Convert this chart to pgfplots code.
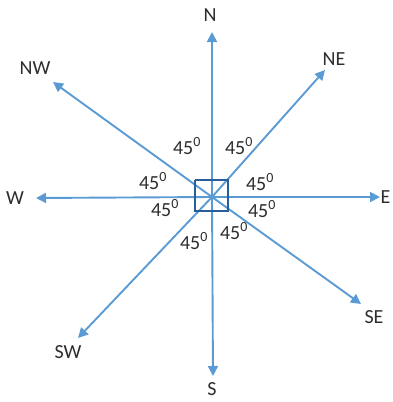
\documentclass[border=0pt]{standalone}
\usepackage{pgfplots}
\pgfplotsset{compat=1.18}
\usepackage{fontspec}
\setmainfont{Carlito}
\usetikzlibrary{arrows.meta}
\definecolor{arrowblue}{RGB}{91,155,213}
\definecolor{boxblue}{RGB}{40,95,155}
\definecolor{txt}{RGB}{45,45,45}

\begin{document}
\begin{tikzpicture}
\begin{axis}[
    width=392pt, height=402pt, scale only axis,
    xmin=0, xmax=392, ymin=0, ymax=402,
    y dir=reverse,
    hide axis, clip=false,
    arr/.style={arrowblue, line width=1.9pt, mark=none, solid,
        -{Triangle[length=10pt,width=10pt]}},
    nodes={font=\fontsize{20}{22}\selectfont, text=txt},
]
% arrows from the centre (pixel coordinates, y downwards)
\addplot[arr] coordinates {(212,197) (212,32)};   % N
\addplot[arr] coordinates {(212,197) (325,70)};   % NE
\addplot[arr] coordinates {(212,197) (53,82)};    % NW
\addplot[arr] coordinates {(212,197) (36,198)};   % W
\addplot[arr] coordinates {(212,197) (380,197)};  % E
\addplot[arr] coordinates {(212,197) (78,338)};   % SW
\addplot[arr] coordinates {(212,197) (213,376)};  % S
\addplot[arr] coordinates {(212,197) (361,304)};  % SE
% centre box
\addplot[boxblue, line width=1.7pt, mark=none, solid] coordinates {(195,180) (228,180) (228,211) (195,211) (195,180)};

\node at (axis cs:210,15) {N};
\node at (axis cs:334,59) {NE};
\node at (axis cs:35,68) {NW};
\node at (axis cs:15,198) {W};
\node[anchor=east, inner sep=0.5pt] at (axis cs:391,197) {E};
\node at (axis cs:68,352) {SW};
\node[anchor=base, inner sep=0pt] at (axis cs:212,395) {S};
\node at (axis cs:374,317) {SE};

\node at (axis cs:187,146) {45\textsuperscript{0}};
\node at (axis cs:239,146) {45\textsuperscript{0}};
\node at (axis cs:153,181) {45\textsuperscript{0}};
\node at (axis cs:260,182) {45\textsuperscript{0}};
\node at (axis cs:165,208) {45\textsuperscript{0}};
\node at (axis cs:262,209) {45\textsuperscript{0}};
\node at (axis cs:194,241) {45\textsuperscript{0}};
\node at (axis cs:234,231) {45\textsuperscript{0}};
\end{axis}
\pgfresetboundingbox
\path (current axis.south west) rectangle (current axis.north east);
\end{tikzpicture}
\end{document}
